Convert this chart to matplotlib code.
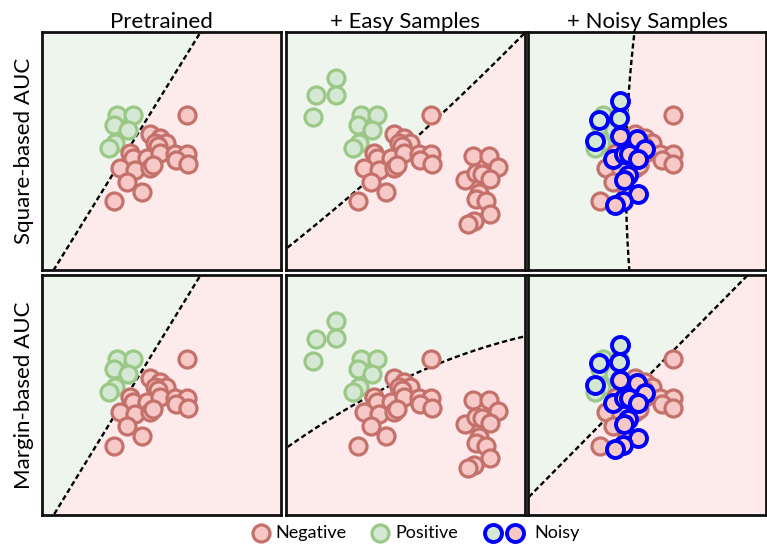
import numpy as np
import matplotlib
matplotlib.use("Agg")
import matplotlib.pyplot as plt

plt.rcParams['font.family'] = ['Lato', 'DejaVu Sans']

# ---------------- data (panel pixel-like units, y measured from top) ----------------
col_titles = ["Pretrained", "+ Easy Samples", "+ Noisy Samples"]
row_titles = ["Square-based AUC", "Margin-based AUC"]
legend_labels = ["Negative", "Positive", "Noisy"]

pos_x = [75.7, 91.7, 72.3, 86.7, 73.3, 67.3]
pos_y = [83.3, 83.3, 93.3, 98.3, 111.0, 116.0]

neg_x = [146.0, 108.3, 118.3, 125.0, 113.3, 116.7, 88.3, 91.7, 105.0, 118.3, 133.3,
         146.0, 135.0, 146.7, 78.3, 93.3, 108.3, 111.7, 85.7, 100.0, 72.3]
neg_y = [83.3, 102.0, 106.0, 111.0, 111.0, 114.3, 121.0, 126.0, 126.0, 121.0, 122.0,
         122.0, 127.7, 132.0, 136.0, 137.7, 136.0, 132.7, 150.0, 160.0, 169.3]

easy_pos_x = [50.7, 29.7, 50.7, 26.7]
easy_pos_y = [46.0, 63.3, 62.7, 85.3]

easy_neg_x = [188.0, 204.0, 213.3, 180.0, 190.7, 196.7, 204.7, 194.0, 190.7, 200.7, 204.7, 189.0, 182.3]
easy_neg_y = [123.7, 124.3, 135.3, 147.7, 141.0, 141.7, 147.0, 161.0, 166.7, 169.3, 181.7, 188.7, 191.7]

noisy_pos_x = [93.0, 71.3, 91.7, 68.0]
noisy_pos_y = [69.3, 87.7, 86.0, 108.7]

noisy_neg_x = [93.0, 109.7, 118.0, 85.7, 97.3, 102.3, 110.7, 100.7, 96.7, 110.7, 95.7, 88.0]
noisy_neg_y = [104.3, 106.7, 116.7, 126.7, 122.0, 122.0, 127.0, 142.7, 147.7, 162.0, 168.7, 172.7]

# decision boundaries: (orientation, xs, ys); 'x' => x = g(y), 'y' => y = f(x)
boundaries = {
    (0, 0): ('x', [11.7, 159.3], [238.0, 0.0]),
    (0, 1): ('y', [0.0, 77.3, 130.7, 238.0], [216.3, 154.7, 104.0, 3.0]),
    (0, 2): ('x', [107.3, 101.3, 99.0, 102.3], [0.0, 69.3, 182.7, 238.0]),
    (1, 0): ('x', [11.7, 159.3], [238.0, 0.0]),
    (1, 1): ('y', [0.0, 72.3, 145.7, 238.0], [171.0, 128.3, 89.3, 61.7]),
    (1, 2): ('y', [0.0, 220.7], [221.0, 1.0]),
}

# ---------------- style ----------------
GREEN_BG = '#edf5ec'
PINK_BG = '#fdeaea'
NEG_EDGE = '#c4706b'
NEG_FACE = '#f6c8c6'
POS_EDGE = '#9cc887'
POS_FACE = '#d5e8d4'
BLUE = '#0000ff'

W, H = 767, 544
fig = plt.figure(figsize=(W / 100, H / 100), dpi=100)

col_left = [42, 286, 528]
col_w = [239, 239, 238]
row_top = [32, 275]
row_h = [238, 240]

S = 150
LW = 2.3
BLW = 2.8

def scat(ax, x, y, face, edge, lw=LW, z=3):
    ax.scatter(x, y, s=S, facecolor=face, edgecolor=edge, linewidths=lw, zorder=z)

for r in range(2):
    for c in range(3):
        rect = [col_left[c] / W, 1 - (row_top[r] + row_h[r]) / H, col_w[c] / W, row_h[r] / H]
        ax = fig.add_axes(rect)
        ax.set_xlim(0, 240)
        ax.set_ylim(238, 0)
        ax.set_xticks([])
        ax.set_yticks([])
        for sp in ax.spines.values():
            sp.set_linewidth(2.0)
            sp.set_color('#111111')
            sp.set_zorder(10)

        kind, bx, by = boundaries[(r, c)]
        deg = min(2, len(bx) - 1)
        if kind == 'y':
            coef = np.polyfit(bx, by, deg)
            xs = np.linspace(-5, 245, 400)
            fy = np.polyval(coef, xs)
            ax.fill_between(xs, -50, fy, color=GREEN_BG, lw=0, zorder=0)
            ax.fill_between(xs, fy, 300, color=PINK_BG, lw=0, zorder=0)
            line, = ax.plot(xs, fy, color='black', lw=1.7, zorder=2)
        else:
            coef = np.polyfit(by, bx, deg)
            ys = np.linspace(-5, 245, 400)
            gx = np.polyval(coef, ys)
            ax.fill_betweenx(ys, -50, gx, color=GREEN_BG, lw=0, zorder=0)
            ax.fill_betweenx(ys, gx, 300, color=PINK_BG, lw=0, zorder=0)
            line, = ax.plot(gx, ys, color='black', lw=1.7, zorder=2)
        line.set_dashes((2.2, 1.3))

        scat(ax, pos_x, pos_y, POS_FACE, POS_EDGE)
        if c == 1:
            scat(ax, easy_pos_x, easy_pos_y, POS_FACE, POS_EDGE)
        scat(ax, neg_x, neg_y, NEG_FACE, NEG_EDGE, z=4)
        if c == 1:
            scat(ax, easy_neg_x, easy_neg_y, NEG_FACE, NEG_EDGE, z=4)
        if c == 2:
            scat(ax, noisy_pos_x, noisy_pos_y, POS_FACE, BLUE, lw=BLW, z=5)
            scat(ax, noisy_neg_x, noisy_neg_y, NEG_FACE, BLUE, lw=BLW, z=5)

        if r == 0:
            ax.set_title(col_titles[c], fontsize=16, pad=3)
        if c == 0:
            ax.set_ylabel(row_titles[r], fontsize=16, labelpad=6)

# legend drawn on a full-figure overlay in pixel coordinates
lax = fig.add_axes([0, 0, 1, 1], zorder=20)
lax.set_xlim(0, W)
lax.set_ylim(H, 0)
lax.axis('off')
ly = 533
lax.scatter([261], [ly], s=S, facecolor=NEG_FACE, edgecolor=NEG_EDGE, linewidths=LW)
lax.scatter([380], [ly], s=S, facecolor=POS_FACE, edgecolor=POS_EDGE, linewidths=LW)
lax.scatter([493], [ly], s=S, facecolor=POS_FACE, edgecolor=BLUE, linewidths=BLW)
lax.scatter([515], [ly], s=S, facecolor=NEG_FACE, edgecolor=BLUE, linewidths=BLW)
for tx, lab in zip([275, 395, 534], legend_labels):
    lax.text(tx, ly, lab, fontsize=13, va='center', ha='left')

fig.savefig("out.png", dpi=100)
